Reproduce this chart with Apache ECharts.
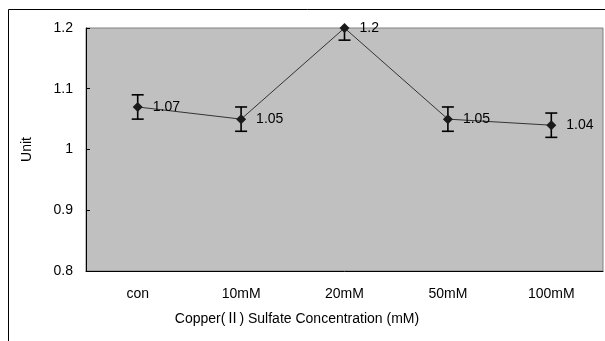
<!DOCTYPE html>
<html>
<head>
<meta charset="utf-8">
<script src="https://cdn.jsdelivr.net/npm/echarts@6/dist/echarts.min.js"></script>
<style>
  body { margin: 0; background: #fff; }
  #chart { width: 605px; height: 341px; }
</style>
</head>
<body>
<div id="chart"></div>
<script>
var categories = ['con', '10mM', '20mM', '50mM', '100mM'];
var unitValues = [1.07, 1.05, 1.2, 1.05, 1.04];
var errValues = [0.02, 0.02, 0.02, 0.02, 0.02];

var myChart = echarts.init(document.getElementById('chart'));

// 误差线数据
var errData = unitValues.map(function (v, i) {
    return [i, v - errValues[i], v + errValues[i]];
});

var fontFam = "'Liberation Sans', 'Noto Sans CJK KR', sans-serif";

var option = {
    animation: false,
    textStyle: { fontFamily: fontFam },
    graphic: [
        {
            type: 'rect',
            shape: { x: 8.5, y: 9.5, width: 800, height: 500 },
            style: { fill: 'none', stroke: '#000', lineWidth: 1 }
        }
    ],
    grid: {
        left: 86,
        top: 28,
        right: 2,
        bottom: 70,
        show: true,
        backgroundColor: '#c0c0c0',
        borderColor: '#808080',
        borderWidth: 1
    },
    xAxis: {
        type: 'category',
        data: categories,
        boundaryGap: true,
        name: 'Copper(Ⅱ) Sulfate Concentration (mM)',
        nameLocation: 'middle',
        nameGap: 41,
        nameTextStyle: { color: '#000', fontSize: 14, padding: [0, 95, 0, 0], fontFamily: fontFam },
        axisLine: { lineStyle: { color: '#000', width: 1 } },
        axisTick: { inside: true, length: 4, lineStyle: { color: '#000' } },
        axisLabel: { color: '#000', fontSize: 14, margin: 16, fontFamily: fontFam },
        splitLine: { show: false }
    },
    yAxis: {
        type: 'value',
        min: 0.8,
        max: 1.2,
        interval: 0.1,
        name: 'Unit',
        nameLocation: 'middle',
        nameRotate: 90,
        nameGap: 52,
        nameTextStyle: { color: '#000', fontSize: 14, fontFamily: fontFam },
        axisLine: { show: true, lineStyle: { color: '#000', width: 1 } },
        axisTick: { show: true, inside: true, length: 4, lineStyle: { color: '#000' } },
        axisLabel: { color: '#000', fontSize: 14, margin: 13, fontFamily: fontFam },
        splitLine: { show: false }
    },
    series: [
        {
            type: 'custom',
            clip: true,
            z: 2,
            data: errData,
            renderItem: function (params, api) {
                var x = api.value(0);
                var lo = api.coord([x, api.value(1)]);
                var hi = api.coord([x, api.value(2)]);
                var half = 6;
                var st = { stroke: '#000', lineWidth: 1.6 };
                return {
                    type: 'group',
                    children: [
                        { type: 'line', shape: { x1: hi[0], y1: hi[1], x2: lo[0], y2: lo[1] }, style: st },
                        { type: 'line', shape: { x1: hi[0] - half, y1: hi[1], x2: hi[0] + half, y2: hi[1] }, style: st },
                        { type: 'line', shape: { x1: lo[0] - half, y1: lo[1], x2: lo[0] + half, y2: lo[1] }, style: st }
                    ]
                };
            }
        },
        {
            type: 'line',
            z: 3,
            data: unitValues,
            symbol: 'diamond',
            symbolSize: 10,
            itemStyle: { color: '#1a1a1a' },
            lineStyle: { color: '#333', width: 1 },
            label: {
                show: true,
                position: 'right',
                distance: 10,
                color: '#000',
                fontSize: 14,
                fontFamily: fontFam,
                formatter: function (p) { return p.value; }
            }
        }
    ]
};

myChart.setOption(option);
</script>
</body>
</html>
